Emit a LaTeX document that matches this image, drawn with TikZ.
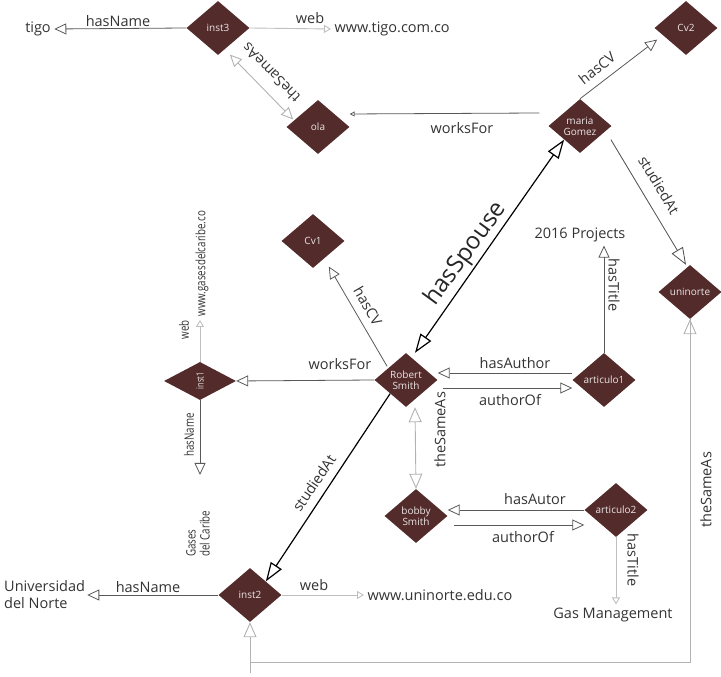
\documentclass[tikz,border=0pt]{standalone}
\usepackage{fontspec}
\setmainfont{Open Sans}
\newfontfamily\narrowfont[FakeStretch=0.75]{Open Sans}
\usetikzlibrary{shapes.geometric,arrows.meta}
\definecolor{concept}{HTML}{532B2B}
\begin{document}
\begin{tikzpicture}[x=1pt,y=1pt,
		entity/.style={diamond,fill=concept,text=white!88!concept,font=\fontsize{10}{11}\selectfont,
			minimum width=63pt,minimum height=54pt,inner sep=0pt,align=center},
		lbl/.style={font=\fontsize{14.5}{17}\selectfont,text=black!80},
		tiny/.style={font=\narrowfont\fontsize{13}{14}\selectfont,text=black!80},
		rel/.style={draw=black!65,line width=0.8pt,-{Triangle[open,length=12pt,width=11pt]}},
		relbig/.style={draw=black!70,line width=0.8pt,-{Triangle[open,length=17pt,width=13pt]}},
		weak/.style={draw=black!25,line width=0.9pt,-{Triangle[open,length=7pt,width=8pt]}},
		weakbig/.style={draw=black!30,line width=0.9pt,{Triangle[open,length=15pt,width=13pt]}-{Triangle[open,length=15pt,width=13pt]}},
		strong/.style={draw=black,line width=1.2pt,-{Triangle[open,length=19pt,width=13pt]}}]
		\useasboundingbox (0,0) rectangle (721,677);

		% Entities
		\node[entity] (inst3) at (218,649) {inst3};
		\node[entity] (ola) at (318,550) {ola};
		\node[entity] (maria) at (580,551) {maria\\Gomez};
		\node[entity] (cv2) at (686,649) {Cv2};
		\node[entity] (uninorte) at (690,385) {uninorte};
		\node[entity] (cv1) at (313,436) {Cv1};
		\node[entity,minimum width=72pt,minimum height=38pt] (inst1) at (200,296) {\rotatebox{90}{\narrowfont inst1}};
		\node[entity] (robert) at (406,297) {Robert\\Smith};
		\node[entity] (articulo1) at (604,297) {articulo1};
		\node[entity] (bobby) at (416,161) {bobby\\Smith};
		\node[entity] (articulo2) at (616,167) {articulo2};
		\node[entity] (inst2) at (250,82) {inst2};

		% Literals
		\node[lbl] (tigo) at (38,648) {tigo};
		\node[lbl,anchor=west] (tigoweb) at (331,648) {www.tigo.com.co};
		\node[lbl] (projects) at (580,442) {2016 Projects};
		\node[lbl] (gasman) at (613,62) {Gas Management};
		\node[lbl,anchor=west,align=left,inner sep=2pt] (unorte) at (2,82) {Universidad\\del Norte};
		\node[lbl,anchor=west] (uniweb) at (364,82) {www.uninorte.edu.co};
		\node[tiny,rotate=90,anchor=west] (gasesweb) at (202,357) {www.gasesdelcaribe.co};
		\node[tiny,rotate=90,align=left] (gases) at (198,143) {Gases\\del Caribe};

		% inst3
		\draw[rel] (inst3.west) -- (tigo.east);
		\node[lbl] at (118,656) {hasName};
		\draw[weak] (inst3.east) -- (tigoweb.west);
		\node[lbl] at (310,659) {web};
		\draw[weakbig,{Triangle[open,length=12pt,width=11pt]}-{Triangle[open,length=12pt,width=11pt]}]
			([shift={(-4,-13)}]inst3.south east) -- ([shift={(-9,-6)}]ola.north west);
		\node[lbl,rotate=134] at (271,604) {theSameAs};

		% maria Gomez
		\draw[rel,-{Triangle[open,length=5pt,width=5pt]}] ([shift={(-9,13)}]maria.west) -- ([yshift=13pt]ola.east);
		\node[lbl] at (462,549) {worksFor};
		\draw[rel] (maria.north) -- ([shift={(-13,2)}]cv2.south west);
		\node[lbl,rotate=38] at (597,609) {hasCV};
		\draw[relbig] ([xshift=15pt]maria.south east) -- ([xshift=-4pt]uninorte.north);
		\node[lbl,rotate=-59] at (659,492) {studiedAt};

		% hasSpouse
		\draw[strong,{Triangle[open,length=19pt,width=13pt]}-{Triangle[open,length=19pt,width=13pt]}]
			([xshift=9pt]robert.north) -- (maria.south west);
		\node[font=\fontsize{24}{26}\selectfont,text=black!85,rotate=54] at (466,423) {hasSpouse};

		% articulo1
		\draw[rel] (articulo1.north) -- (articulo1.north |- projects.south);
		\node[lbl,rotate=-90] at (614,392) {hasTitle};
		\draw[rel] ([yshift=7pt]articulo1.west) -- ([yshift=7pt]robert.east);
		\node[lbl] at (515,314) {hasAuthor};
		\draw[rel] ([shift={(5,-8)}]robert.east) -- ([yshift=-8pt]articulo1.west);
		\node[lbl] at (510,277) {authorOf};

		% bobby Smith
		\draw[weakbig] ([xshift=9pt]robert.south) -- (bobby.north);
		\node[lbl,rotate=90] at (440,247) {theSameAs};
		\draw[rel] (articulo2.west) -- (articulo2.west -| bobby.east);
		\node[lbl] at (535,178) {hasAutor};
		\draw[rel] ([shift={(6,-9)}]bobby.east) -- ([yshift=-15pt]articulo2.west);
		\node[lbl] at (523,140) {authorOf};
		\draw[weak] (articulo2.south) -- (articulo2.south |- gasman.north);
		\node[lbl,rotate=-90] at (633,117) {hasTitle};

		% uninorte / inst2
		\draw[weakbig,-] (uninorte.south) |- (inst2.south |- 0,15);
		\draw[weakbig,{Triangle[open,length=15pt,width=13pt]}-] (uninorte.south) -- ++(0,-10);
		\draw[weakbig,-{Triangle[open,length=15pt,width=13pt]}] (inst2.south |- 0,4) -- (inst2.south);
		\node[lbl,rotate=90] at (706,187) {theSameAs};

		% Robert Smith
		\draw[rel] (robert.west) -- (inst1.east);
		\node[lbl] at (340,313) {worksFor};
		\draw[rel] ([xshift=-3pt]robert.north west) -- ([yshift=-12pt]cv1.south east);
		\node[lbl,rotate=-60] at (368,371) {hasCV};
		\draw[strong] (robert.south west) -- (inst2.north east);
		\node[lbl,rotate=56] at (314,194) {studiedAt};

		% inst1
		\draw[weak] (inst1.north) -- (inst1.north |- gasesweb.west);
		\node[tiny,rotate=90] at (184,347) {web};
		\draw[rel] (inst1.south) -- (200,202);
		\node[tiny,rotate=90] at (189,242) {hasName};

		% inst2
		\draw[rel] (inst2.west) -- (unorte.east);
		\node[lbl] at (148,90) {hasName};
		\draw[weak] (inst2.east) -- (uniweb.west);
		\node[lbl] at (314,92) {web};
	\end{tikzpicture}
\end{document}
